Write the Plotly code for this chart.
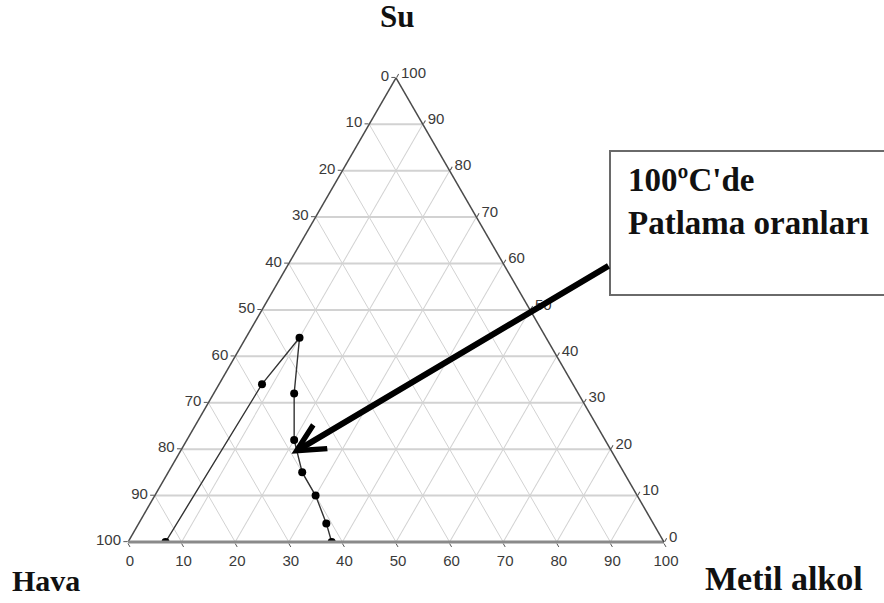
import plotly.graph_objects as go

# Explosion limits at 100 °C (percent by volume)
su = [0, 34, 44, 32, 22, 15, 10, 4, 0]          # water
metil = [7, 8, 10, 15, 20, 25, 30, 35, 38]      # methyl alcohol
hava = [100 - s - m for s, m in zip(su, metil)]  # air (balance)

tick_vals = list(range(0, 101, 10))
tick_text = [str(100 - v) for v in tick_vals]

# Page and triangle placement (pixels)
W, H = 884, 603
TRI_LEFT, TRI_RIGHT = 128, 664
TRI_BOTTOM = 542
TRI_TOP = TRI_BOTTOM - (TRI_RIGHT - TRI_LEFT) * 3 ** 0.5 / 2


def ternary_to_px(a, c):
    """Pixel position of a composition (a = top component, c = bottom-right)."""
    base = TRI_RIGHT - TRI_LEFT
    x = TRI_LEFT + base * (c + a / 2) / 100
    y = TRI_BOTTOM - (TRI_BOTTOM - TRI_TOP) * a / 100
    return x, y


fig = go.Figure()
fig.add_trace(go.Scatterternary(
    a=su, b=hava, c=metil,
    mode="lines+markers",
    line=dict(color="#333333", width=1.4),
    marker=dict(color="black", size=8),
    showlegend=False,
    hoverinfo="a+b+c",
))

tick_font = dict(family="Liberation Sans, Arial, sans-serif", size=15, color="#3a3a3a")


def axis(line_color, line_width, grid_width):
    return dict(
        title=dict(text=""),
        tickmode="array",
        tickvals=tick_vals,
        ticktext=tick_text,
        ticks="outside",
        ticklen=4,
        tickcolor="#555555",
        tickfont=tick_font,
        linecolor=line_color,
        linewidth=line_width,
        showgrid=True,
        gridcolor="#d2d2d2",
        gridwidth=grid_width,
    )


serif = "Liberation Serif, Times New Roman, serif"

tip_x, tip_y = ternary_to_px(19, 21)
tail_x, tail_y = 610, 265

fig.update_layout(
    width=W, height=H,
    margin=dict(l=0, r=0, t=0, b=0),
    paper_bgcolor="white",
    ternary=dict(
        sum=100,
        bgcolor="white",
        domain=dict(x=[TRI_LEFT / W, TRI_RIGHT / W],
                    y=[1 - TRI_BOTTOM / H, 1 - TRI_TOP / H]),
        aaxis=axis("#4a4a4a", 1.5, 1.5),
        baxis=axis("#8a8a8a", 3, 1),
        caxis=axis("#4a4a4a", 1.5, 1),
    ),
    shapes=[dict(
        type="rect", xref="paper", yref="paper",
        x0=610 / W, x1=1.05, y0=1 - 295 / H, y1=1 - 151 / H,
        line=dict(color="#6a6a6a", width=2),
        fillcolor="white", layer="above",
    )],
    annotations=[
        dict(text="<b>Su</b>", x=397 / W, y=1 - 17 / H, xref="paper", yref="paper",
             showarrow=False, font=dict(family=serif, size=31, color="#111111"),
             xanchor="center", yanchor="middle"),
        dict(text="<b>Hava</b>", x=46 / W, y=1 - 580 / H, xref="paper", yref="paper",
             showarrow=False, font=dict(family=serif, size=30, color="#111111"),
             xanchor="center", yanchor="middle"),
        dict(text="<b>Metil alkol</b>", x=784 / W, y=1 - 578 / H, xref="paper", yref="paper",
             showarrow=False, font=dict(family=serif, size=34, color="#111111"),
             xanchor="center", yanchor="middle"),
        dict(text="<b>100ºC'de<br>Patlama oranları</b>", x=626 / W, y=1 - 160 / H,
             xref="paper", yref="paper", showarrow=False, align="left",
             xanchor="left", yanchor="top",
             font=dict(family=serif, size=33, color="#111111")),
        dict(text="", x=tip_x / W, y=1 - tip_y / H, xref="paper", yref="paper",
             ax=tail_x - tip_x, ay=tail_y - tip_y, axref="pixel", ayref="pixel",
             showarrow=True, arrowhead=5, arrowsize=0.9, arrowwidth=6,
             arrowcolor="black", standoff=0),
    ],
)

fig.write_html("out.html")
